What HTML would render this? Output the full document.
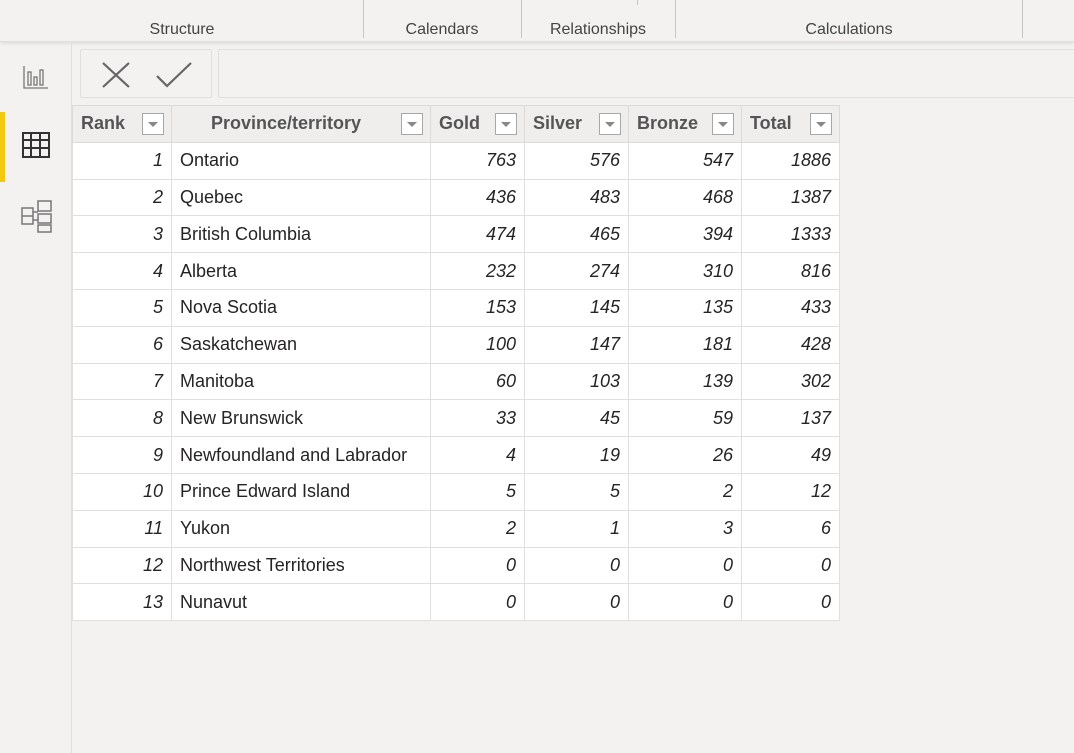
<!DOCTYPE html>
<html><head><meta charset="utf-8">
<style>
*{box-sizing:border-box;margin:0;padding:0}
body{width:1074px;height:753px;background:#f3f2f1;position:relative;overflow:hidden;font-family:"Liberation Sans",sans-serif;color:#252423}
.abs{position:absolute}
.rib{top:0;left:0;width:1074px;height:42px;background:#f3f2f1;border-bottom:1px solid #e1dfdd;box-shadow:0 2px 3px rgba(0,0,0,0.08)}
.rl{position:absolute;top:21px;font-size:16px;color:#444;text-align:center}
.div{position:absolute;top:0;width:1px;height:38px;background:#c8c6c4}
table{position:absolute;left:72px;top:105px;border-collapse:collapse;font-size:18px}
td,th{border:1px solid #e1dfdd;height:36.8px;padding:0 8px;white-space:nowrap}
th{background:#efeeed;color:#555;font-weight:bold;text-align:left;position:relative;border-color:#dcdad8}
td{background:#fff}
td.n{text-align:right;font-style:italic}
.dd{position:absolute;right:7px;top:7px;width:22px;height:22px;background:#fff;border:1px solid #a9a7a5}
.dd:after{content:"";position:absolute;left:5px;top:8px;border-left:5px solid transparent;border-right:5px solid transparent;border-top:5px solid #888}
</style></head><body>
<div class="abs rib">
<div class="rl" style="left:120px;width:124px">Structure</div>
<div class="div" style="left:363px"></div>
<div class="rl" style="left:380px;width:124px">Calendars</div>
<div class="div" style="left:521px"></div>
<div class="rl" style="left:530px;width:136px">Relationships</div>
<div class="div" style="left:637px;height:5px"></div>
<div class="div" style="left:675px"></div>
<div class="rl" style="left:760px;width:178px">Calculations</div>
<div class="div" style="left:1022px"></div>
</div>
<div class="abs" style="left:71px;top:43px;width:1px;height:710px;background:#e1dfdd"></div>
<div class="abs" style="left:0;top:112px;width:5px;height:70px;background:#f2c811"></div>
<svg class="abs" style="left:22px;top:62px" width="28" height="30">
<g fill="none" stroke="#777" stroke-width="1.3"><path d="M2 4V26H26"/><rect x="6" y="10" width="3" height="13"/><rect x="12" y="15" width="3" height="8"/><rect x="18" y="8" width="3" height="15"/></g></svg>
<svg class="abs" style="left:21px;top:130px" width="30" height="30">
<g fill="none" stroke="#333" stroke-width="2"><rect x="2" y="3" width="26" height="24"/><path d="M2 10H28M2 18H28M10 3V27M19 3V27"/></g></svg>
<svg class="abs" style="left:20px;top:198px" width="34" height="36">
<g fill="none" stroke="#777" stroke-width="1.5"><rect x="2" y="10" width="11" height="16"/><path d="M2 18H13"/><rect x="18" y="3" width="13" height="10"/><rect x="18" y="16" width="13" height="9"/><rect x="18" y="27" width="13" height="7"/><path d="M13 14H18M13 22H18"/></g></svg>
<div class="abs" style="left:80px;top:49px;width:132px;height:49px;border:1px solid #e1dfdd;border-radius:2px"></div>
<svg class="abs" style="left:100px;top:60px" width="34" height="30"><path d="M3 3L29 27M29 3L3 27" stroke="#666" stroke-width="2.2"/></svg>
<svg class="abs" style="left:155px;top:60px" width="40" height="30"><path d="M2 16L12 26L36 3" fill="none" stroke="#666" stroke-width="2.2"/></svg>
<div class="abs" style="left:218px;top:49px;width:870px;height:49px;border:1px solid #e1dfdd;border-radius:2px"></div>
<table>
<thead><tr>
<th style="width:99px">Rank<span class="dd"></span></th>
<th style="width:259px;text-align:center;padding-right:38px">Province/territory<span class="dd"></span></th>
<th style="width:94px">Gold<span class="dd"></span></th>
<th style="width:104px">Silver<span class="dd"></span></th>
<th style="width:113px">Bronze<span class="dd"></span></th>
<th style="width:98px">Total<span class="dd"></span></th>
</tr></thead>
<tbody id="tb"></tbody>
</table>
<script>
const ranks=[1,2,3,4,5,6,7,8,9,10,11,12,13];
const provinces=["Ontario","Quebec","British Columbia","Alberta","Nova Scotia","Saskatchewan","Manitoba","New Brunswick","Newfoundland and Labrador","Prince Edward Island","Yukon","Northwest Territories","Nunavut"];
const gold=[763,436,474,232,153,100,60,33,4,5,2,0,0];
const silver=[576,483,465,274,145,147,103,45,19,5,1,0,0];
const bronze=[547,468,394,310,135,181,139,59,26,2,3,0,0];
const total=[1886,1387,1333,816,433,428,302,137,49,12,6,0,0];
const tb=document.getElementById('tb');
ranks.forEach((r,i)=>{
  const tr=document.createElement('tr');
  
  
  [[r,'n'],[provinces[i],''],[gold[i],'n'],[silver[i],'n'],[bronze[i],'n'],[total[i],'n']].forEach(c=>{
    const td=document.createElement('td');
    
    
    td.className=c[1];td.textContent=c[0];tr.appendChild(td);
  });
  tb.appendChild(tr);
});
</script>
</body></html>
